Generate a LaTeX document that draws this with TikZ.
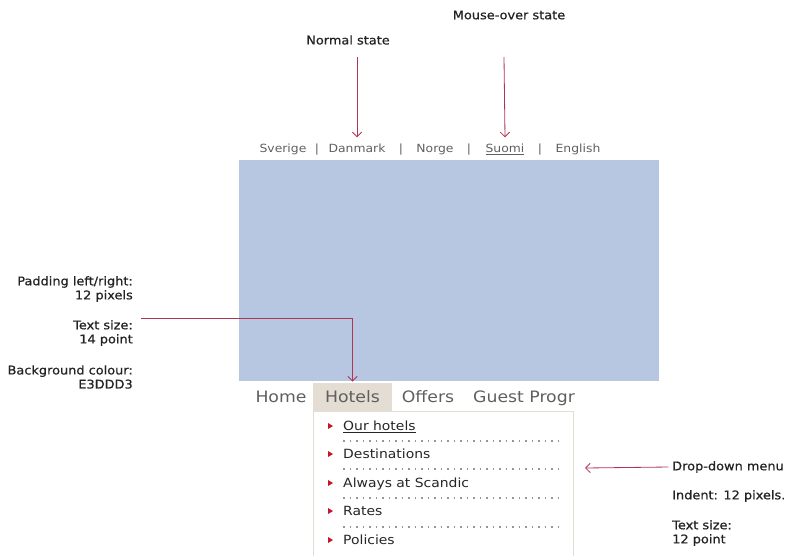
\documentclass[tikz,border=0pt]{standalone}
\usepackage{fontspec}
\setmainfont{DejaVu Sans}[FakeStretch=1.1]
\newfontfamily\notefont{DejaVu Sans}[FakeStretch=1.08, FakeBold=0.7]
\usetikzlibrary{arrows.meta}
\definecolor{bannerblue}{RGB}{184,199,225}
\definecolor{tabbg}{HTML}{E3DDD3}
\definecolor{arrowred}{RGB}{178,52,84}
\definecolor{bulletred}{RGB}{200,20,40}
\definecolor{navgray}{RGB}{95,95,95}
\definecolor{notegray}{RGB}{35,35,35}
\definecolor{dotgray}{RGB}{150,150,150}

\begin{document}
\begin{tikzpicture}[x=0.03cm, y=-0.03cm,
        note/.style={inner sep=0pt, text=notegray, font=\notefont\fontsize{10.2}{12}\selectfont},
        lang/.style={inner sep=0pt, anchor=base, text=navgray, font=\fontsize{9.6}{11}\selectfont},
        tab/.style={inner sep=0pt, text=navgray, font=\fontsize{13.4}{16}\selectfont},
        item/.style={inner sep=0pt, anchor=base west, text=black!85, font=\fontsize{10.8}{13}\selectfont},
        pointer/.style={arrowred, line width=0.7pt, ->},
        >={Straight Barb[length=4pt, width=8pt]}
    ]
        \useasboundingbox (0,0) rectangle (787,555);

        % Banner
        \fill[bannerblue] (239,160) rectangle (659,381);

        % Language bar
        \node[lang] (sverige) at (283,152) {Sverige};
        \node[lang] (danmark) at (357,152) {Danmark};
        \node[lang] (norge) at (435,152) {Norge};
        \node[lang] (suomi) at (505,152) {\underline{Suomi}};
        \node[lang] (english) at (578,152) {English};
        \foreach \x [count=\i] in {317,401,469,540}
            \node[lang] (bar\i) at (\x,152) {|};

        % State labels
        \node[note] (normal) at (348,40) {Normal state};
        \node[note] (mouseover) at (509,15) {Mouse-over state};
        \coordinate (normaltop) at (357,57);
        \coordinate (mousetop) at (504,57);
        \draw[pointer] (normaltop) -- ([yshift=5pt]danmark.north);
        \draw[pointer] (mousetop) -- ([yshift=5pt]suomi.north);

        % Main menu
        \node[tab, fill=tabbg, minimum width=2.37cm, minimum height=0.84cm] (hotels) at (352.5,397) {Hotels};
        \node[tab, anchor=base] (home) at (281,402) {Home};
        \node[tab, anchor=base] (offers) at (428,402) {Offers};
        \node[tab, anchor=base] (guest) at (524,402) {Guest Progr};

        % Drop-down box
        \draw[tabbg, line width=0.8pt] (313,560) -- (313,411) -- (573,411) -- (573,560);
        \foreach \txt/\y in {{\underline{Our hotels}}/426, Destinations/454, Always at Scandic/483, Rates/511, Policies/540} {
            \fill[bulletred] (328,\y-3) -- (333,\y) -- (328,\y+3) -- cycle;
            \node[item] at (343,\y+4.5) {\txt};
        }
        \foreach \y in {441,469,498,527}
            \draw[dotgray, line width=1.4pt, dash pattern=on 1.4pt off 4.15pt] (343,\y) -- (560,\y);

        % Left notes
        \node[note, anchor=east, align=right] (padding) at (133,289) {Padding left/right:\\12 pixels};
        \node[note, anchor=east, align=right] (textsize) at (133,333) {Text size:\\14 point};
        \node[note, anchor=east, align=right] (bgcolour) at (133,377) {Background colour:\\E3DDD3};
        \coordinate (padstart) at (141,318);
        \draw[pointer] (padstart) -| ([yshift=1pt]hotels.north);

        % Right notes
        \node[note, anchor=west] (dropdown) at (672,467) {Drop-down menu};
        \node[note, anchor=west] (indent) at (672,496) {Indent: 12 pixels.};
        \node[note, anchor=west, align=left] (menusize) at (672,533) {Text size:\\12 point};
        \coordinate (menuedge) at (585,468);
        \draw[pointer] ([xshift=-3pt]dropdown.west) -- (menuedge);
    \end{tikzpicture}
\end{document}
